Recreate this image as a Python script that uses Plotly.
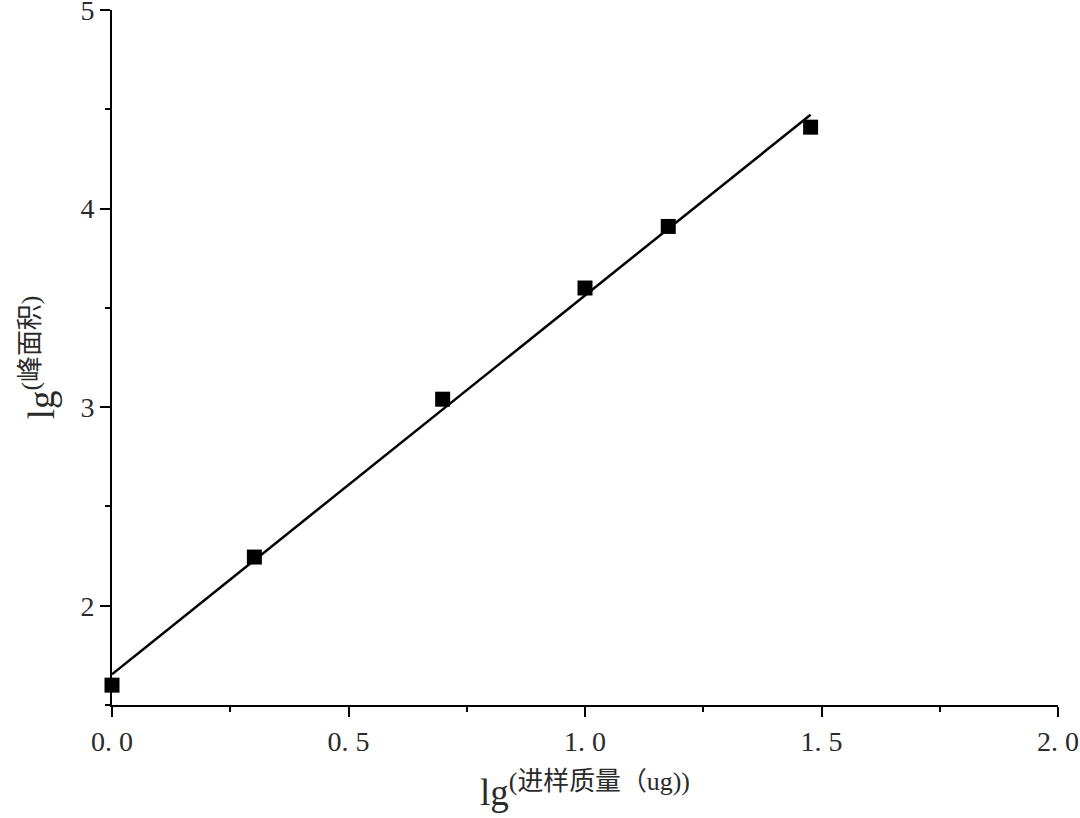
import numpy as np
import plotly.graph_objects as go

# data
lg_mass = [0.0, 0.301, 0.699, 1.0, 1.176, 1.477]
lg_area = [1.60, 2.245, 3.04, 3.60, 3.91, 4.41]

x_tickvals = [0.0, 0.5, 1.0, 1.5, 2.0]
x_ticktext = ["0. 0", "0. 5", "1. 0", "1. 5", "2. 0"]
y_tickvals = [2, 3, 4, 5]
y_ticktext = ["2", "3", "4", "5"]

# linear fit line
slope, intercept = np.polyfit(lg_mass, lg_area, 1)
fit_x = [min(lg_mass), max(lg_mass)]
fit_y = [slope * v + intercept for v in fit_x]

fig = go.Figure()
fig.add_trace(go.Scatter(x=fit_x, y=fit_y, mode="lines",
                         line=dict(color="black", width=2.5), showlegend=False))
fig.add_trace(go.Scatter(x=lg_mass, y=lg_area, mode="markers",
                         marker=dict(symbol="square", size=15, color="black"),
                         showlegend=False, cliponaxis=False))

tick_font = dict(family="Liberation Serif, Noto Sans CJK SC", size=28, color="#2a2a2a")
title_font = dict(family="Liberation Serif, Noto Sans CJK SC", size=37, color="#2a2a2a")

fig.update_layout(
    width=1080, height=818,
    paper_bgcolor="white", plot_bgcolor="white",
    margin=dict(l=112, r=22, t=10, b=113),
    xaxis=dict(range=[0, 2.0], tickvals=x_tickvals, ticktext=x_ticktext,
               showgrid=False, zeroline=False, showline=True, linecolor="black",
               linewidth=2, ticks="outside", ticklen=10, tickwidth=2, tickcolor="black",
               tickfont=tick_font, automargin=False, ticklabeloverflow="allow",
               minor=dict(dtick=0.25, ticks="outside", ticklen=5, tickwidth=2, tickcolor="black"),
               title=dict(text="lg<sup>(进样质量（ug))</sup>", font=title_font, standoff=24)),
    yaxis=dict(range=[1.5, 5.0], tickvals=y_tickvals, ticktext=y_ticktext,
               showgrid=False, zeroline=False, showline=True, linecolor="black",
               linewidth=2, ticks="outside", ticklen=10, tickwidth=2, tickcolor="black",
               tickfont=tick_font, automargin=False, ticklabeloverflow="allow",
               minor=dict(dtick=0.5, ticks="outside", ticklen=5, tickwidth=2, tickcolor="black"),
               title=dict(text="lg<sup>(峰面积)</sup>", font=title_font, standoff=14)),
)

fig.write_html("out.html", config={"displayModeBar": False},
               post_script="document.body.style.margin='0';")
